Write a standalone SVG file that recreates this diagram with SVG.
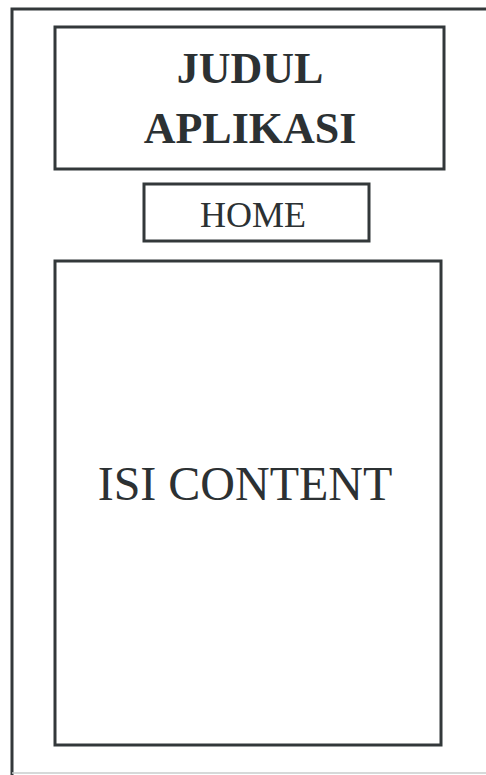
<svg xmlns="http://www.w3.org/2000/svg" width="486" height="775" viewBox="0 0 486 775">
  <style>
    .frame { fill: none; stroke: #33383a; stroke-width: 3; }
    .box { fill: #ffffff; stroke: #33383a; stroke-width: 3; }
    .label { font-family: "Liberation Serif", "Times New Roman", serif; fill: #2c3133; text-anchor: middle; }
    .title { font-weight: bold; font-size: 44px; }
  </style>
  <rect width="486" height="775" fill="#ffffff"/>

  <!-- page frame: open on the right side -->
  <g id="page-frame">
    <polyline class="frame" points="486,9 12,9 12,775"/>
    <line x1="12" y1="773" x2="486" y2="773" stroke="#c9cccd" stroke-width="1.5"/>
  </g>

  <g id="title">
    <rect class="box" x="55" y="27" width="389" height="142"/>
    <text class="label title" x="250" y="83">JUDUL</text>
    <text class="label title" x="250" y="143">APLIKASI</text>
  </g>

  <g id="home">
    <rect class="box" x="144" y="184" width="225" height="57"/>
    <text class="label" x="253" y="227" font-size="36">HOME</text>
  </g>

  <g id="content">
    <rect class="box" x="55" y="261" width="386" height="484"/>
    <text class="label" x="245" y="500" font-size="48">ISI CONTENT</text>
  </g>

  <g id="connectors"></g>
</svg>
